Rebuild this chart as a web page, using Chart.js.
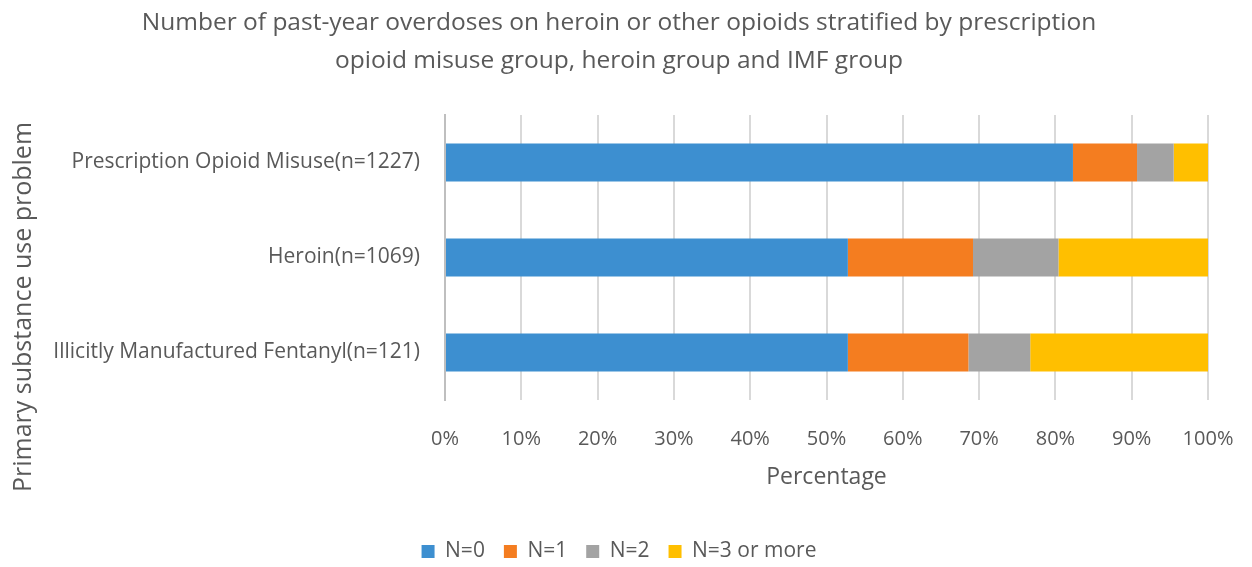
<!DOCTYPE html>
<html>
<head>
<meta charset="utf-8">
<script src="https://cdn.jsdelivr.net/npm/chart.js@4"></script>
<style>
  body { margin: 0; background: #fff; }
  #wrap { width: 1252px; height: 567px; }
</style>
</head>
<body>
<div id="wrap"><canvas id="grafica"></canvas></div>
<script>
var grupos = ["Prescription Opioid Misuse(n=1227)", "Heroin(n=1069)", "Illicitly Manufactured Fentanyl(n=121)"];
var seriesNombres = ["N=0", "N=1", "N=2", "N=3 or more"];
var n0 = [82.3, 52.8, 52.8];
var n1 = [8.4, 16.4, 15.8];
var n2 = [4.8, 11.2, 8.1];
var n3 = [4.5, 19.6, 23.3];
var colores = ["#3d8fd0", "#f47d20", "#a3a3a3", "#ffbf00"];
var xTicks = [0, 10, 20, 30, 40, 50, 60, 70, 80, 90, 100];

var gris = "#595959";
var fuente = "'Open Sans', Lato, sans-serif";

// titulo del eje y, dibujado a mano para ubicarlo como en la figura
var tituloY = {
    id: "tituloY",
    afterDraw: function(chart) {
        var ctx = chart.ctx;
        ctx.save();
        ctx.translate(24, 307);
        ctx.rotate(-Math.PI / 2);
        ctx.font = "25px " + fuente;
        ctx.fillStyle = gris;
        ctx.textAlign = "center";
        ctx.textBaseline = "middle";
        ctx.fillText("Primary substance use problem", 0, 0);
        ctx.restore();
    }
};

var valores = [n0, n1, n2, n3];
var datasets = [];
for (var i = 0; i < seriesNombres.length; i++) {
    datasets.push({
        label: seriesNombres[i],
        data: valores[i],
        backgroundColor: colores[i],
        barPercentage: 0.4,
        categoryPercentage: 1.0
    });
}

var ctx = document.getElementById("grafica").getContext("2d");
var chart = new Chart(ctx, {
    type: "bar",
    data: { labels: grupos, datasets: datasets },
    plugins: [tituloY],
    options: {
        indexAxis: "y",
        responsive: true,
        maintainAspectRatio: false,
        animation: false,
        layout: { padding: { left: 0, right: 14, top: 4, bottom: -5 } },
        plugins: {
            title: {
                display: true,
                text: ["Number of past-year overdoses on heroin or other opioids stratified by prescription",
                       "opioid misuse group, heroin group and IMF group"],
                color: gris,
                font: { family: fuente, size: 24.5, weight: "normal", lineHeight: 1.55 },
                padding: { top: 0, bottom: 35 }
            },
            legend: {
                position: "bottom",
                labels: {
                    color: gris,
                    font: { family: fuente, size: 21 },
                    boxWidth: 13,
                    boxHeight: 13,
                    padding: 19
                }
            },
            tooltip: { enabled: false }
        },
        scales: {
            x: {
                stacked: true,
                min: 0,
                max: 100,
                afterBuildTicks: function(scale) {
                    scale.ticks = xTicks.map(function(v) { return { value: v }; });
                },
                afterFit: function(scale) {
                    scale.height = 122;
                    scale.paddingRight = 44;
                },
                ticks: {
                    color: gris,
                    font: { family: fuente, size: 20 },
                    padding: 27,
                    callback: function(v) { return v + "%"; }
                },
                grid: { color: "#d9d9d9", lineWidth: 2, drawTicks: false },
                border: { display: false },
                title: {
                    display: true,
                    text: "Percentage",
                    color: gris,
                    font: { family: fuente, size: 23 },
                    padding: { top: 10, bottom: 31 }
                }
            },
            y: {
                stacked: true,
                afterFit: function(scale) { scale.width = 445; },
                ticks: {
                    color: gris,
                    font: { family: fuente, size: 21 },
                    padding: 17
                },
                grid: { display: false },
                border: { display: true, color: "#bfbfbf", width: 2 }
            }
        }
    }
});
</script>
</body>
</html>
